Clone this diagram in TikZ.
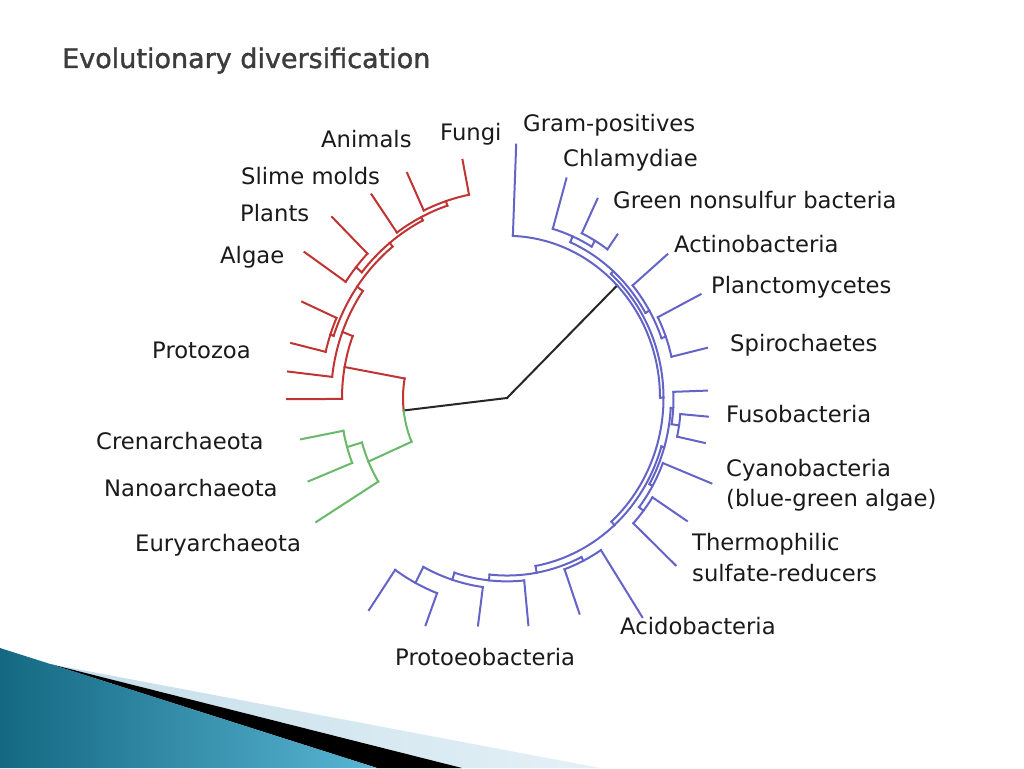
\documentclass[tikz,border=0pt]{standalone}
\usepackage{fontspec}
\newfontfamily\labfont{DejaVu Sans}
\newfontfamily\titlefont[FakeBold=1.4]{DejaVu Sans}
\definecolor{redc}{RGB}{192,52,52}
\definecolor{greenc}{RGB}{106,184,106}
\definecolor{bluec}{RGB}{100,100,200}
\definecolor{titlec}{RGB}{60,60,60}
\definecolor{labc}{RGB}{26,26,26}
\definecolor{tealA}{RGB}{20,104,130}
\definecolor{tealB}{RGB}{88,182,212}
\definecolor{paleA}{RGB}{196,222,234}
\definecolor{paleB}{RGB}{228,240,246}
\newcommand\Arc[3]{\draw (#1:#3) arc[start angle=#1,end angle=#2,radius=#3];}
\newcommand\Rad[3]{\draw (#1:#2) -- (#1:#3);}
\tikzset{
  branch/.style={line width=2pt, line cap=rect, line join=miter},
  lab/.style={anchor=base west, inner sep=0pt, text=labc, font=\labfont\fontsize{22.7}{26}\selectfont},
}
\begin{document}
\begin{tikzpicture}[x=1pt,y=1pt]
\useasboundingbox (0,0) rectangle (1024,768);
\fill[white] (0,0) rectangle (1024,768);
% decoration
\shade[left color=paleA, right color=paleB] (50,104) -- (600,0) -- (462,0) -- cycle;
\fill[black] (50,104) -- (462,0) -- (377,0) -- cycle;
\shade[left color=tealA, right color=tealB] (0,120) -- (377,0) -- (0,0) -- cycle;
% title
\node[anchor=base west, inner sep=0pt, text=titlec, font=\titlefont\fontsize{27}{30}\selectfont] (title) at (62,700) {Evolutionary diversification};
% tree
\begin{scope}[shift={(507,370)}, yscale=1.06, branch]
\coordinate (root) at (0,0);
\coordinate (ea) at (186.5:104);
\coordinate (bac) at (43.95:153);
\draw[black!85] (root) -- (ea);
\draw[black!85] (root) -- (bac);
% eukaryotes
\begin{scope}[redc]
\Arc{169.8}{186.5}{104}
\Rad{169.8}{104}{165}
\Arc{159.25}{180.3}{165}
\Rad{180.3}{165}{220}
\Rad{159.25}{165}{176}
\Arc{145.0}{173.5}{176}
\Rad{173.5}{176}{220.4}
\Rad{145.0}{176}{183}
\Arc{128.7}{161.3}{183}
\Rad{161.3}{183}{186.5}
\Arc{156.1}{166.5}{186.5}
\Rad{156.1}{186.5}{224}
\Rad{166.5}{186.5}{222}
\Rad{128.7}{183}{187.5}
\Arc{116.7}{140.75}{187.5}
\Rad{140.75}{187.5}{195}
\Arc{135.7}{145.8}{195}
\Rad{135.7}{195}{244.5}
\Rad{145.8}{195}{244.8}
\Rad{116.7}{187.5}{191}
\Arc{108.2}{125.2}{191}
\Rad{125.2}{191}{235}
\Rad{108.2}{191}{195.5}
\Arc{101.2}{115.2}{195.5}
\Rad{115.2}{195.5}{234.6}
\Rad{101.2}{195.5}{229}
\end{scope}
% archaea
\begin{scope}[greenc]
\Arc{186.5}{203.4}{104}
\Rad{203.4}{104}{151}
\Arc{196.15}{211.5}{151}
\Rad{211.5}{151}{223.8}
\Rad{196.15}{151}{166.5}
\Arc{190.7}{201.6}{166.5}
\Rad{190.7}{166.5}{209.6}
\Rad{201.6}{166.5}{213.5}
\end{scope}
% bacteria
\begin{scope}[bluec]
\Arc{0.1}{87.8}{153}
\Rad{87.8}{153}{239.2}
\Rad{0.1}{153}{156.5}
\Arc{-48.15}{48.4}{156.5}
\Rad{48.4}{156.5}{160}
\Arc{30.1}{66.7}{160}
\Rad{66.7}{160}{166}
\Arc{59.35}{74}{166}
\Rad{74}{166}{215.5}
\Rad{59.35}{166}{172.5}
\Arc{54.4}{64.3}{172.5}
\Rad{64.3}{172.5}{208.6}
\Rad{54.4}{172.5}{189.7}
\Rad{30.1}{160}{164.5}
\Arc{20.05}{40.2}{164.5}
\Rad{40.2}{164.5}{209.9}
\Rad{20.05}{164.5}{169}
\Arc{13.3}{26.8}{169}
\Rad{26.8}{169}{216.9}
\Rad{13.3}{169}{205.5}
\Rad{-48.15}{156.5}{161}
\Arc{-79.8}{-16.5}{161}
\Rad{-16.5}{161}{164}
\Arc{-29.7}{-3.3}{164}
\Rad{-3.3}{164}{166.5}
\Arc{-8.55}{2}{166.5}
\Rad{2}{166.5}{200}
\Rad{-8.55}{166.5}{174}
\Arc{-12.1}{-5}{174}
\Rad{-5}{174}{201.6}
\Rad{-12.1}{174}{202.3}
\Rad{-29.7}{164}{167.5}
\Arc{-37.95}{-21.5}{167.5}
\Rad{-21.5}{167.5}{219.7}
\Rad{-37.95}{167.5}{173}
\Arc{-43.1}{-32.8}{173}
\Rad{-32.8}{173}{214}
\Rad{-43.1}{173}{231}
\Rad{-79.8}{161}{167.5}
\Arc{-96}{-63.6}{167.5}
\Rad{-63.6}{167.5}{171.5}
\Arc{-70.4}{-56.8}{171.5}
\Rad{-56.8}{171.5}{247}
\Rad{-70.4}{171.5}{216}
\Rad{-96}{167.5}{173}
\Arc{-107.7}{-84.3}{173}
\Rad{-84.3}{173}{215.4}
\Rad{-107.7}{173}{180}
\Arc{-117.7}{-97.7}{180}
\Rad{-97.7}{180}{216.6}
\Rad{-117.7}{180}{197}
\Arc{-124.6}{-110.8}{197}
\Rad{-110.8}{197}{229.2}
\Rad{-124.6}{197}{243}
\end{scope}
\end{scope}
% labels
\node[lab] (animals) at (321,620) {Animals};
\node[lab] (fungi) at (440,627) {Fungi};
\node[lab] (gram) at (523,636) {Gram-positives};
\node[lab] (slime) at (241,583) {Slime molds};
\node[lab] (chlam) at (563,601) {Chlamydiae};
\node[lab] (plants) at (240,546) {Plants};
\node[lab] (gns) at (613,559) {Green nonsulfur bacteria};
\node[lab] (algae) at (220,504) {Algae};
\node[lab] (actino) at (674,515) {Actinobacteria};
\node[lab] (plancto) at (711,474) {Planctomycetes};
\node[lab] (spiro) at (730,416) {Spirochaetes};
\node[lab] (protozoa) at (152,409) {Protozoa};
\node[lab] (fuso) at (726,345) {Fusobacteria};
\node[lab] (cren) at (96,318) {Crenarchaeota};
\node[lab] (cyano) at (726,291) {Cyanobacteria};
\node[lab] (bga) at (726,261) {(blue-green algae)};
\node[lab] (nano) at (104,271) {Nanoarchaeota};
\node[lab] (eury) at (135,216) {Euryarchaeota};
\node[lab] (thermo) at (692,217) {Thermophilic};
\node[lab] (sulf) at (692,186) {sulfate-reducers};
\node[lab] (acido) at (620,134) {Acidobacteria};
\node[lab] (proteo) at (395,103) {Protoeobacteria};
\end{tikzpicture}
\end{document}
